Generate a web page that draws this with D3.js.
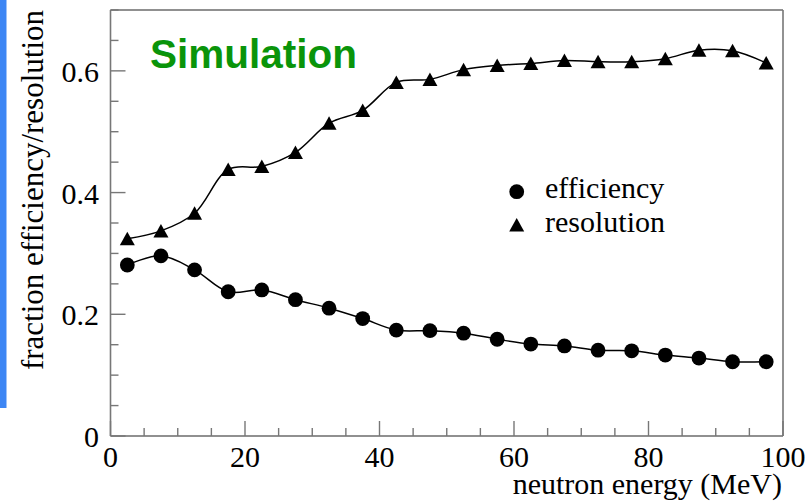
<!DOCTYPE html>
<html>
<head>
<meta charset="utf-8">
<script src="https://cdn.jsdelivr.net/npm/d3@7"></script>
<style>
  html, body { margin: 0; padding: 0; background: #fff; }
  svg { display: block; }
</style>
</head>
<body>
<svg id="chart" width="811" height="504"></svg>
<script>
// Neutron energy bin centres (MeV)
const energy = [2.5, 7.5, 12.5, 17.5, 22.5, 27.5, 32.5, 37.5, 42.5, 47.5,
                52.5, 57.5, 62.5, 67.5, 72.5, 77.5, 82.5, 87.5, 92.5, 97.5];
// Detection efficiency per bin
const efficiency = [0.281, 0.296, 0.273, 0.237, 0.240, 0.224, 0.210, 0.193, 0.174, 0.173,
                    0.169, 0.159, 0.151, 0.148, 0.141, 0.140, 0.133, 0.128, 0.122, 0.122];
// Fractional resolution per bin
const resolution = [0.324, 0.337, 0.366, 0.438, 0.443, 0.466, 0.514, 0.535, 0.581, 0.586,
                    0.602, 0.609, 0.612, 0.617, 0.615, 0.615, 0.620, 0.634, 0.633, 0.613];
// Axis ticks
const xMajor = [0, 20, 40, 60, 80, 100];
const xMinor = d3.range(0, 100.01, 5);
const yMajor = [0, 0.2, 0.4, 0.6];
const yMinor = d3.range(0, 0.701, 0.05);
const yTickLabels = ["0", "0.2", "0.4", "0.6"];
const legendLabels = ["efficiency", "resolution"];

const SERIF = "'Liberation Serif', 'Times New Roman', Times, serif";
const SANS = "'Liberation Sans', Arial, Helvetica, sans-serif";

const svg = d3.select("#chart");
const L = 110.5, R = 783, T = 10, B = 436;

const x = d3.scaleLinear().domain([0, 100]).range([L, R]);
const y = d3.scaleLinear().domain([0, 0.7]).range([B, T]);

// Blue edge strip along the left border
svg.append("rect").attr("x", 0).attr("y", 0).attr("width", 6.5).attr("height", 408)
  .attr("fill", "#3d86f4");

// Frame
svg.append("line").attr("x1", L).attr("x2", R).attr("y1", T).attr("y2", T)
  .attr("stroke", "#222").attr("stroke-width", 1.2);
svg.append("line").attr("x1", L).attr("x2", R).attr("y1", B).attr("y2", B)
  .attr("stroke", "#222").attr("stroke-width", 1.2);
svg.append("line").attr("x1", L).attr("x2", L).attr("y1", T).attr("y2", B)
  .attr("stroke", "#777").attr("stroke-width", 1.6);
svg.append("line").attr("x1", R).attr("x2", R).attr("y1", T).attr("y2", B)
  .attr("stroke", "#777").attr("stroke-width", 1.6);

// Ticks pointing into the frame
const tickCol = "#777";
const isMajorX = v => xMajor.some(m => Math.abs(m - v) < 1e-6);
const isMajorY = v => yMajor.some(m => Math.abs(m - v) < 1e-6);
svg.append("g").selectAll("line").data(xMinor).join("line")
  .attr("x1", d => x(d)).attr("x2", d => x(d))
  .attr("y1", B).attr("y2", d => B - (isMajorX(d) ? 15 : 8))
  .attr("stroke", tickCol).attr("stroke-width", 1.4);
svg.append("g").selectAll("line").data(yMinor).join("line")
  .attr("y1", d => y(d)).attr("y2", d => y(d))
  .attr("x1", L).attr("x2", d => L + (isMajorY(d) ? 15 : 8))
  .attr("stroke", tickCol).attr("stroke-width", 1.4);

// Tick labels
svg.append("g").selectAll("text").data(xMajor).join("text")
  .attr("x", d => x(d)).attr("y", 467)
  .attr("text-anchor", "middle")
  .style("font-family", SERIF).style("font-size", "30px")
  .text(d => d);
svg.append("g").selectAll("text").data(yMajor).join("text")
  .attr("x", 99).attr("y", d => y(d) + 11)
  .attr("text-anchor", "end")
  .style("font-family", SERIF).style("font-size", "30px")
  .text((d, i) => yTickLabels[i]);

// Axis titles
svg.append("text").attr("x", 782).attr("y", 494)
  .attr("text-anchor", "end")
  .style("font-family", SERIF).style("font-size", "30px")
  .text("neutron energy (MeV)");
svg.append("text").attr("transform", "translate(43,10) rotate(-90)")
  .attr("text-anchor", "end")
  .style("font-family", SERIF).style("font-size", "31px")
  .text("fraction efficiency/resolution");

// Smoothed curves through the points
const line = d3.line().curve(d3.curveCatmullRom.alpha(0.5));
svg.append("path")
  .attr("d", line(energy.map((e, i) => [x(e), y(efficiency[i])])))
  .attr("fill", "none").attr("stroke", "#000").attr("stroke-width", 1.5);
svg.append("path")
  .attr("d", line(energy.map((e, i) => [x(e), y(resolution[i])])))
  .attr("fill", "none").attr("stroke", "#000").attr("stroke-width", 1.5);

// Markers
const tri = (cx, cy) => `M${cx - 7.5},${cy + 6.5}L${cx + 7.5},${cy + 6.5}L${cx},${cy - 7}Z`;
svg.append("g").selectAll("circle").data(energy).join("circle")
  .attr("cx", d => x(d)).attr("cy", (d, i) => y(efficiency[i]))
  .attr("r", 7.4).attr("fill", "#000");
svg.append("g").selectAll("path").data(energy).join("path")
  .attr("d", (d, i) => tri(x(d), y(resolution[i])))
  .attr("fill", "#000");

// Legend
svg.append("circle").attr("cx", 516.7).attr("cy", 191.7).attr("r", 7.4).attr("fill", "#000");
svg.append("path").attr("d", tri(516.7, 225)).attr("fill", "#000");
svg.append("text").attr("x", 545).attr("y", 198)
  .style("font-family", SERIF).style("font-size", "30px").text(legendLabels[0]);
svg.append("text").attr("x", 545).attr("y", 232)
  .style("font-family", SERIF).style("font-size", "30px").text(legendLabels[1]);

// Label
svg.append("text").attr("x", 150).attr("y", 67.7)
  .style("font-family", SANS).style("font-weight", "bold").style("font-size", "40.5px")
  .style("fill", "#0a940a")
  .text("Simulation");
</script>
</body>
</html>
